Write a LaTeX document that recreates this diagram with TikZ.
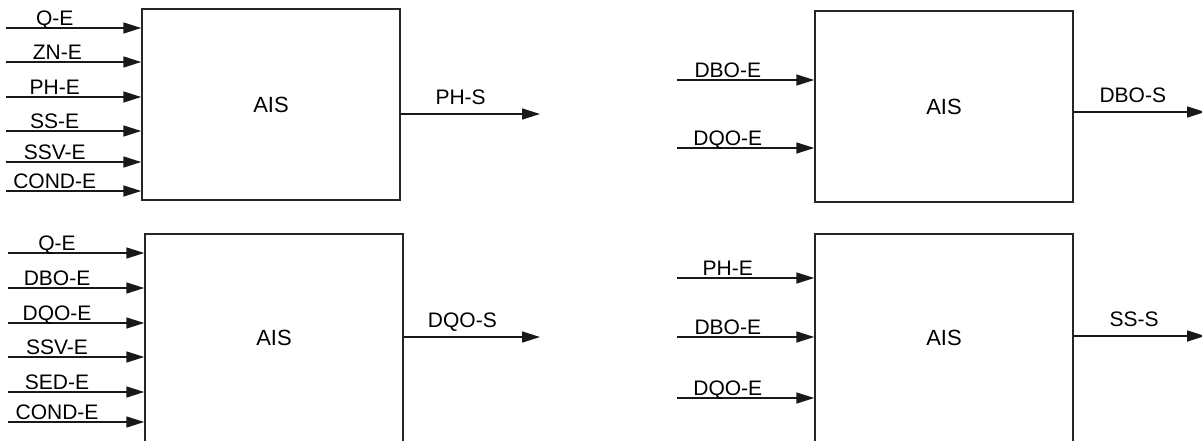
\documentclass[tikz,border=0pt]{standalone}
\usepackage{fontspec}
\setmainfont{Liberation Sans}
\usetikzlibrary{arrows.meta}
\begin{document}
\begin{tikzpicture}[x=1pt,y=-1pt,
  box/.style={draw=black!85,line width=1.5pt,inner sep=0pt,
    font=\fontsize{22}{26}\selectfont},
  arr/.style={draw=black!90,line width=1.6pt,-{Triangle[length=18pt,width=11pt]}},
  inl/.style={anchor=base,yshift=2.5pt,inner sep=0pt,font=\fontsize{21}{25}\selectfont},
  outl/.style={anchor=base,yshift=10pt,inner sep=0pt,font=\fontsize{21}{25}\selectfont}]
\useasboundingbox (0,0) rectangle (1202,440);
\clip (0,0) rectangle (1202,440);
% boxes
\node[box,minimum width=258pt,minimum height=191pt] (b1) at (271,104.5) {AIS};
\node[box,minimum width=258pt,minimum height=208pt] (b2) at (274,338) {AIS};
\node[box,minimum width=258pt,minimum height=191pt] (b3) at (944,106.5) {AIS};
\node[box,minimum width=258pt,minimum height=208pt] (b4) at (944,338) {AIS};
% box 1 inputs
\coordinate (a1) at (6,28);
\coordinate (a2) at (6,62);
\coordinate (a3) at (6,97);
\coordinate (a4) at (6,131);
\coordinate (a5) at (6,162);
\coordinate (a6) at (6,191);
\draw[arr] (a1) -- node[inl,pos=0.36] {Q-E} (a1 -| b1.west);
\draw[arr] (a2) -- node[inl,pos=0.38] {ZN-E} (a2 -| b1.west);
\draw[arr] (a3) -- node[inl,pos=0.36] {PH-E} (a3 -| b1.west);
\draw[arr] (a4) -- node[inl,pos=0.36] {SS-E} (a4 -| b1.west);
\draw[arr] (a5) -- node[inl,pos=0.36] {SSV-E} (a5 -| b1.west);
\draw[arr] (a6) -- node[inl,pos=0.36] {COND-E} (a6 -| b1.west);
% box 1 output
\coordinate (o1) at (540,114);
\draw[arr] (b1.east |- o1) -- node[outl,pos=0.43] {PH-S} (o1);
% box 2 inputs
\coordinate (c1) at (8,253);
\coordinate (c2) at (8,288);
\coordinate (c3) at (8,323);
\coordinate (c4) at (8,357);
\coordinate (c5) at (8,392);
\coordinate (c6) at (8,422);
\draw[arr] (c1) -- node[inl,pos=0.36] {Q-E} (c1 -| b2.west);
\draw[arr] (c2) -- node[inl,pos=0.36] {DBO-E} (c2 -| b2.west);
\draw[arr] (c3) -- node[inl,pos=0.36] {DQO-E} (c3 -| b2.west);
\draw[arr] (c4) -- node[inl,pos=0.36] {SSV-E} (c4 -| b2.west);
\draw[arr] (c5) -- node[inl,pos=0.36] {SED-E} (c5 -| b2.west);
\draw[arr] (c6) -- node[inl,pos=0.36] {COND-E} (c6 -| b2.west);
% box 2 output
\coordinate (o2) at (540,337);
\draw[arr] (b2.east |- o2) -- node[outl,pos=0.43] {DQO-S} (o2);
% box 3 inputs
\coordinate (d1) at (677,80);
\coordinate (d2) at (677,148);
\draw[arr] (d1) -- node[inl,pos=0.37] {DBO-E} (d1 -| b3.west);
\draw[arr] (d2) -- node[inl,pos=0.37] {DQO-E} (d2 -| b3.west);
% box 3 output
\coordinate (o3) at (1205,112);
\draw[arr] (b3.east |- o3) -- node[outl,pos=0.45] {DBO-S} (o3);
% box 4 inputs
\coordinate (e1) at (677,278);
\coordinate (e2) at (677,337);
\coordinate (e3) at (677,398);
\draw[arr] (e1) -- node[inl,pos=0.37] {PH-E} (e1 -| b4.west);
\draw[arr] (e2) -- node[inl,pos=0.37] {DBO-E} (e2 -| b4.west);
\draw[arr] (e3) -- node[inl,pos=0.37] {DQO-E} (e3 -| b4.west);
% box 4 output
\coordinate (o4) at (1205,336);
\draw[arr] (b4.east |- o4) -- node[outl,pos=0.46] {SS-S} (o4);
\end{tikzpicture}
\end{document}
